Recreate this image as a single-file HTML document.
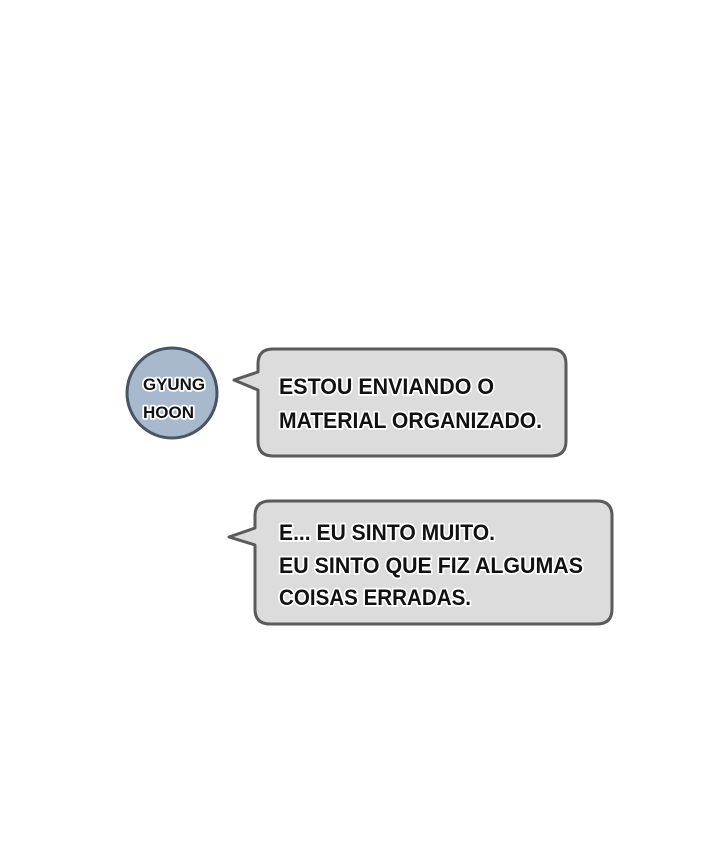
<!DOCTYPE html>
<html><head><style>html,body{margin:0;padding:0;background:#fff;}svg{display:block}</style></head>
<body>
<svg width="720" height="861" viewBox="0 0 720 861" xmlns="http://www.w3.org/2000/svg">
<style>text{font-family:"Liberation Sans",sans-serif;font-weight:bold;fill:#111;stroke:#fff;stroke-width:3.5px;paint-order:stroke;stroke-linejoin:round;}</style>
<circle cx="172" cy="393" r="45" fill="#a8b9ce" stroke="#4a5563" stroke-width="3"/>
<text x="143" y="390" font-size="17" textLength="62" lengthAdjust="spacingAndGlyphs">GYUNG</text>
<text x="143" y="418" font-size="17" textLength="51" lengthAdjust="spacingAndGlyphs">HOON</text>
<path d="M273,349 H551 Q566,349 566,364 V441 Q566,456 551,456 H273 Q258,456 258,441 V390 L234,380 L258,372 V364 Q258,349 273,349 Z" fill="#dcdcdc" stroke="#5a5a5a" stroke-width="3" stroke-linejoin="round"/>
<text x="279" y="394" font-size="22" textLength="215" lengthAdjust="spacingAndGlyphs">ESTOU ENVIANDO O</text>
<text x="279" y="428" font-size="22" textLength="263" lengthAdjust="spacingAndGlyphs">MATERIAL ORGANIZADO.</text>
<path d="M270,501 H597 Q612,501 612,516 V609 Q612,624 597,624 H270 Q255,624 255,609 V545 L229,537 L255,528 V516 Q255,501 270,501 Z" fill="#dcdcdc" stroke="#5a5a5a" stroke-width="3" stroke-linejoin="round"/>
<text x="279" y="540" font-size="22" textLength="216" lengthAdjust="spacingAndGlyphs">E... EU SINTO MUITO.</text>
<text x="279" y="573" font-size="22" textLength="304" lengthAdjust="spacingAndGlyphs">EU SINTO QUE FIZ ALGUMAS</text>
<text x="279" y="605" font-size="22" textLength="192" lengthAdjust="spacingAndGlyphs">COISAS ERRADAS.</text>
</svg>
</body></html>
